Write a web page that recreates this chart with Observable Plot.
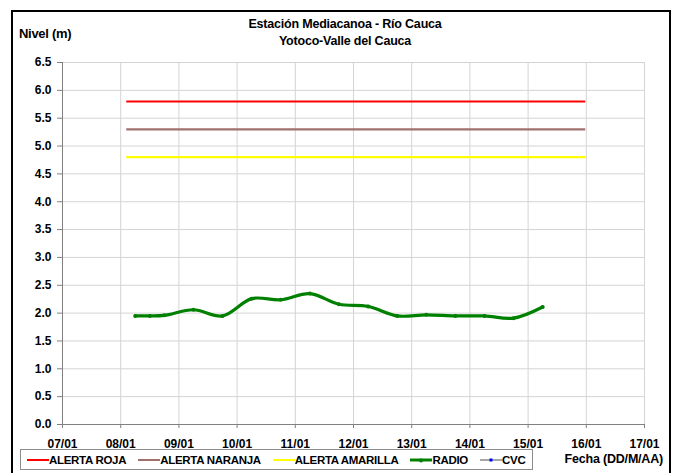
<!DOCTYPE html>
<html>
<head>
<meta charset="utf-8">
<script src="https://cdn.jsdelivr.net/npm/d3@7"></script>
<script src="https://cdn.jsdelivr.net/npm/@observablehq/plot@0.6"></script>
<style>
  html, body { margin: 0; padding: 0; background: #fff; }
  body { width: 684px; height: 473px; position: relative; overflow: hidden; font-family: "Liberation Sans", Arial, sans-serif; font-weight: bold; color: #000; }
  #frame { position: absolute; left: 11px; top: 10px; width: 660px; height: 470px; border: 2px solid #000; box-sizing: border-box; }
  #chart { position: absolute; left: 0; top: 0; }
  .txt { position: absolute; white-space: nowrap; }
  #title { left: 145px; width: 400px; top: 16px; text-align: center; font-size: 12.5px; line-height: 17px; letter-spacing: -0.2px; }
  #ylabel { left: 19px; top: 26px; font-size: 13px; letter-spacing: -0.3px; }
  #xlabel { right: 21px; top: 452px; font-size: 12.5px; letter-spacing: -0.2px; }
  #legend { position: absolute; left: 20px; top: 449px; width: 513px; height: 21px; border: 1px solid #8c8c8c; box-sizing: border-box; display: flex; flex-wrap: nowrap; align-items: center; padding-left: 6px; font-size: 11.5px; letter-spacing: -0.3px; white-space: nowrap; }
  .item { display: flex; align-items: center; flex-shrink: 0; white-space: nowrap; margin-right: 12px; }
  .item svg { flex-shrink: 0; }
</style>
</head>
<body>
<div id="frame"></div>
<div id="chart"></div>
<div id="title" class="txt">Estación Mediacanoa - Río Cauca<br>Yotoco-Valle del Cauca</div>
<div id="ylabel" class="txt">Nivel (m)</div>
<div id="xlabel" class="txt">Fecha (DD/M/AA)</div>
<div id="legend"></div>
<script>
// ---- data ----
const radioTimes = [
  "2013-01-08T06:00Z", "2013-01-08T12:00Z", "2013-01-08T18:00Z",
  "2013-01-09T06:00Z", "2013-01-09T18:00Z",
  "2013-01-10T06:00Z", "2013-01-10T18:00Z",
  "2013-01-11T06:00Z", "2013-01-11T18:00Z",
  "2013-01-12T06:00Z", "2013-01-12T18:00Z",
  "2013-01-13T06:00Z", "2013-01-13T18:00Z",
  "2013-01-14T06:00Z", "2013-01-14T18:00Z",
  "2013-01-15T06:00Z"
];
const radioLevels = [1.95, 1.95, 1.96, 2.06, 1.95, 2.26, 2.24, 2.35, 2.16, 2.12, 1.95, 1.97, 1.95, 1.95, 1.91, 2.11];

const alertNames = ["ALERTA ROJA", "ALERTA NARANJA", "ALERTA AMARILLA"];
const alertLevels = [5.8, 5.3, 4.8];
const alertColors = ["#ff0000", "#a0706c", "#ffff00"];
const alertStart = "2013-01-08T02:30Z";
const alertEnd = "2013-01-15T23:45Z";

const legendNames = ["ALERTA ROJA", "ALERTA NARANJA", "ALERTA AMARILLA", "RADIO", "CVC"];
const legendColors = ["#ff0000", "#a0706c", "#ffff00", "#008000", "#a6a6a6"];

const xTickDates = ["2013-01-07", "2013-01-08", "2013-01-09", "2013-01-10", "2013-01-11", "2013-01-12",
                    "2013-01-13", "2013-01-14", "2013-01-15", "2013-01-16", "2013-01-17"];
const xTickLabels = ["07/01", "08/01", "09/01", "10/01", "11/01", "12/01", "13/01", "14/01", "15/01", "16/01", "17/01"];
const yTicks = [0, 0.5, 1, 1.5, 2, 2.5, 3, 3.5, 4, 4.5, 5, 5.5, 6, 6.5];

// ---- build ----
const parse = s => new Date(s.length === 10 ? s + "T00:00Z" : s);
const radio = radioTimes.map((t, i) => ({date: parse(t), level: radioLevels[i]}));
const alerts = alertNames.map((n, i) => ({name: n, level: alertLevels[i], color: alertColors[i],
  start: parse(alertStart), end: parse(alertEnd)}));
const xTicks = xTickDates.map(parse);
const labelOf = new Map(xTicks.map((d, i) => [+d, xTickLabels[i]]));

const chart = Plot.plot({
  width: 684,
  height: 446,
  marginLeft: 62,
  marginRight: 40,
  marginTop: 62,
  marginBottom: 22,
  style: {fontFamily: "'Liberation Sans', Arial, sans-serif", fontSize: "12px", fontWeight: "bold", color: "#000", background: "transparent", overflow: "visible"},
  x: {type: "utc", domain: [xTicks[0], xTicks[xTicks.length - 1]]},
  y: {domain: [0, 6.5]},
  marks: [
    Plot.gridX(xTicks, {stroke: "#d4d4d4", strokeOpacity: 1}),
    Plot.gridY(yTicks, {stroke: "#d4d4d4", strokeOpacity: 1}),
    Plot.ruleY(alerts, {y: "level", x1: "start", x2: "end", stroke: "color", strokeWidth: 2.2}),
    Plot.line(radio, {x: "date", y: "level", stroke: "#008000", strokeWidth: 3.2, curve: "catmull-rom"}),
    Plot.dot(radio, {x: "date", y: "level", r: 2, fill: "#008000"}),
    Plot.axisY({ticks: yTicks, tickFormat: d => d.toFixed(1), tickSize: 5, tickPadding: 6, stroke: "#808080", fill: "#000", label: null}),
    Plot.axisX({ticks: xTicks, tickFormat: d => labelOf.get(+d), tickSize: 4, tickPadding: 11, stroke: "#808080", fill: "#000", label: null}),
    Plot.ruleX([xTicks[0]], {stroke: "#808080"}),
    Plot.ruleY([0], {stroke: "#808080"})
  ]
});
document.getElementById("chart").appendChild(chart);

// ---- legend ----
const legend = d3.select("#legend");
legendNames.forEach((name, i) => {
  const item = legend.append("div").attr("class", "item");
  const svg = item.append("svg").attr("width", 22).attr("height", 10);
  svg.append("line").attr("x1", 0).attr("x2", 22).attr("y1", 5).attr("y2", 5)
    .attr("stroke", legendColors[i]).attr("stroke-width", name === "RADIO" ? 3 : 2);
  if (name === "RADIO") svg.append("circle").attr("cx", 11).attr("cy", 5.5).attr("r", 2).attr("fill", "#008000");
  if (name === "CVC") svg.append("rect").attr("x", 9.5).attr("y", 3.5).attr("width", 3).attr("height", 3).attr("fill", "#0000ff");
  item.append("span").text(name);
});
</script>
</body>
</html>
